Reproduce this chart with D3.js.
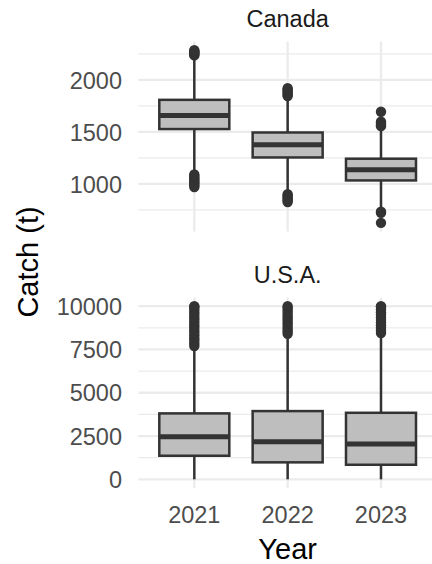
<!DOCTYPE html>
<html>
<head>
<meta charset="utf-8">
<script src="https://cdn.jsdelivr.net/npm/d3@7"></script>
<style>
  html, body { margin: 0; padding: 0; background: #ffffff; }
  svg { display: block; }
  text { font-family: "Liberation Sans", Arial, sans-serif; }
</style>
</head>
<body>
<svg id="chart" width="432" height="564"></svg>
<script>
// ---------------- DATA ----------------
const years = ["2021", "2022", "2023"];
const panelNames = ["Canada", "U.S.A."];

// Canada catch (t)
const canadaWhiskerLow = [1110, 910, 745];
const canadaQ1 = [1527, 1254, 1033];
const canadaMedian = [1657, 1376, 1136];
const canadaQ3 = [1808, 1494, 1242];
const canadaWhiskerHigh = [2225, 1835, 1545];
const canadaOutliers2021 = [2235, 2245, 2255, 2265, 2275, 2285, 1090, 1075, 1060, 1045, 1030, 1015, 1000, 985, 970];
const canadaOutliers2022 = [1845, 1860, 1875, 1890, 1905, 1920, 900, 885, 870, 855, 840, 826];
const canadaOutliers2023 = [1693, 1597, 1585, 1570, 1555, 732, 722, 625];

// U.S.A. catch (t)
const usaWhiskerLow = [0, 0, 0];
const usaQ1 = [1362, 981, 842];
const usaMedian = [2458, 2170, 2037];
const usaQ3 = [3808, 3941, 3843];
const usaWhiskerHigh = [7650, 8350, 8400];
const usaOutliers2021 = [7700, 7850, 8000, 8150, 8300, 8450, 8600, 8750, 8900, 9050, 9200, 9350, 9500, 9650, 9800, 9950, 10000];
const usaOutliers2022 = [8400, 8550, 8700, 8850, 9000, 9150, 9300, 9450, 9600, 9750, 9900, 10000];
const usaOutliers2023 = [8450, 8600, 8750, 8900, 9050, 9200, 9350, 9500, 9650, 9800, 9950, 10000];

// Axis ticks
const canadaMajorTicks = [1000, 1500, 2000];
const canadaMinorTicks = [750, 1250, 1750, 2250];
const usaMajorTicks = [0, 2500, 5000, 7500, 10000];
const usaMinorTicks = [1250, 3750, 6250, 8750];

const xTitle = "Year";
const yTitle = "Catch (t)";

// ---------------- BUILD ----------------
function buildStats(lo, q1, med, q3, hi, outs) {
  return years.map((y, i) => ({
    year: y, lo: lo[i], q1: q1[i], med: med[i], q3: q3[i], hi: hi[i], outliers: outs[i]
  }));
}

const panels = [
  {
    name: panelNames[0], top: 41.6, bottom: 231.5,
    stats: buildStats(canadaWhiskerLow, canadaQ1, canadaMedian, canadaQ3, canadaWhiskerHigh,
      [canadaOutliers2021, canadaOutliers2022, canadaOutliers2023]),
    major: canadaMajorTicks, minor: canadaMinorTicks, stripY: 26.5
  },
  {
    name: panelNames[1], top: 297.5, bottom: 488,
    stats: buildStats(usaWhiskerLow, usaQ1, usaMedian, usaQ3, usaWhiskerHigh,
      [usaOutliers2021, usaOutliers2022, usaOutliers2023]),
    major: usaMajorTicks, minor: usaMinorTicks, stripY: 282.5
  }
];

const svg = d3.select("#chart");
svg.append("rect").attr("width", 432).attr("height", 564).attr("fill", "#ffffff");

const panelLeft = 138.3, panelRight = 437;
const x = d3.scalePoint().domain(years).range([panelLeft, panelRight]).padding(0.6);
const boxW = x.step() * 0.75;

const gridCol = "#EBEBEB";
const lineCol = "#333333";
const fillCol = "#BEBEBE";

panels.forEach(p => {
  const allVals = [];
  p.stats.forEach(s => { allVals.push(s.lo, s.hi, ...s.outliers); });
  const ext = d3.extent(allVals);
  const pad = (ext[1] - ext[0]) * 0.05;
  const y = d3.scaleLinear().domain([ext[0] - pad, ext[1] + pad]).range([p.bottom, p.top]);

  const g = svg.append("g");

  // minor grid
  g.selectAll(".minor").data(p.minor).enter().append("line")
    .attr("x1", panelLeft).attr("x2", panelRight)
    .attr("y1", d => y(d)).attr("y2", d => y(d))
    .attr("stroke", gridCol).attr("stroke-width", 1.2);
  // major grid
  g.selectAll(".major").data(p.major).enter().append("line")
    .attr("x1", panelLeft).attr("x2", panelRight)
    .attr("y1", d => y(d)).attr("y2", d => y(d))
    .attr("stroke", gridCol).attr("stroke-width", 2.3);
  // vertical grid
  g.selectAll(".vgrid").data(years).enter().append("line")
    .attr("x1", d => x(d)).attr("x2", d => x(d))
    .attr("y1", p.top).attr("y2", p.bottom)
    .attr("stroke", gridCol).attr("stroke-width", 2.3);

  // y tick labels
  g.selectAll(".ytick").data(p.major).enter().append("text")
    .attr("x", 122).attr("y", d => y(d)).attr("dy", "0.37em")
    .attr("text-anchor", "end").attr("font-size", 23.5).attr("fill", "#4D4D4D")
    .text(d => d);

  // strip label
  g.append("text").attr("x", (panelLeft + panelRight) / 2).attr("y", p.stripY)
    .attr("text-anchor", "middle").attr("font-size", 23.5).attr("fill", "#1A1A1A")
    .text(p.name);

  // boxes
  const b = g.selectAll(".box").data(p.stats).enter().append("g");
  b.append("line").attr("x1", d => x(d.year)).attr("x2", d => x(d.year))
    .attr("y1", d => y(d.q3)).attr("y2", d => y(d.hi))
    .attr("stroke", lineCol).attr("stroke-width", 2.5);
  b.append("line").attr("x1", d => x(d.year)).attr("x2", d => x(d.year))
    .attr("y1", d => y(d.q1)).attr("y2", d => y(d.lo))
    .attr("stroke", lineCol).attr("stroke-width", 2.5);
  b.append("rect").attr("x", d => x(d.year) - boxW / 2).attr("width", boxW)
    .attr("y", d => y(d.q3)).attr("height", d => y(d.q1) - y(d.q3))
    .attr("fill", fillCol).attr("stroke", lineCol).attr("stroke-width", 2.5);
  b.append("line").attr("x1", d => x(d.year) - boxW / 2).attr("x2", d => x(d.year) + boxW / 2)
    .attr("y1", d => y(d.med)).attr("y2", d => y(d.med))
    .attr("stroke", lineCol).attr("stroke-width", 5);
  b.selectAll("circle").data(d => d.outliers.map(v => ({ year: d.year, v }))).enter()
    .append("circle")
    .attr("cx", d => x(d.year)).attr("cy", d => y(d.v)).attr("r", 5.2)
    .attr("fill", lineCol);
});

// x tick labels
svg.selectAll(".xtick").data(years).enter().append("text")
  .attr("x", d => x(d)).attr("y", 522.5)
  .attr("text-anchor", "middle").attr("font-size", 23.5).attr("fill", "#4D4D4D")
  .text(d => d);

// axis titles
svg.append("text").attr("x", (panelLeft + panelRight) / 2).attr("y", 559)
  .attr("text-anchor", "middle").attr("font-size", 29).attr("fill", "#000000")
  .text(xTitle);
svg.append("text").attr("transform", "translate(37.5,262) rotate(-90)")
  .attr("text-anchor", "middle").attr("font-size", 29).attr("fill", "#000000")
  .text(yTitle);
</script>
</body>
</html>
